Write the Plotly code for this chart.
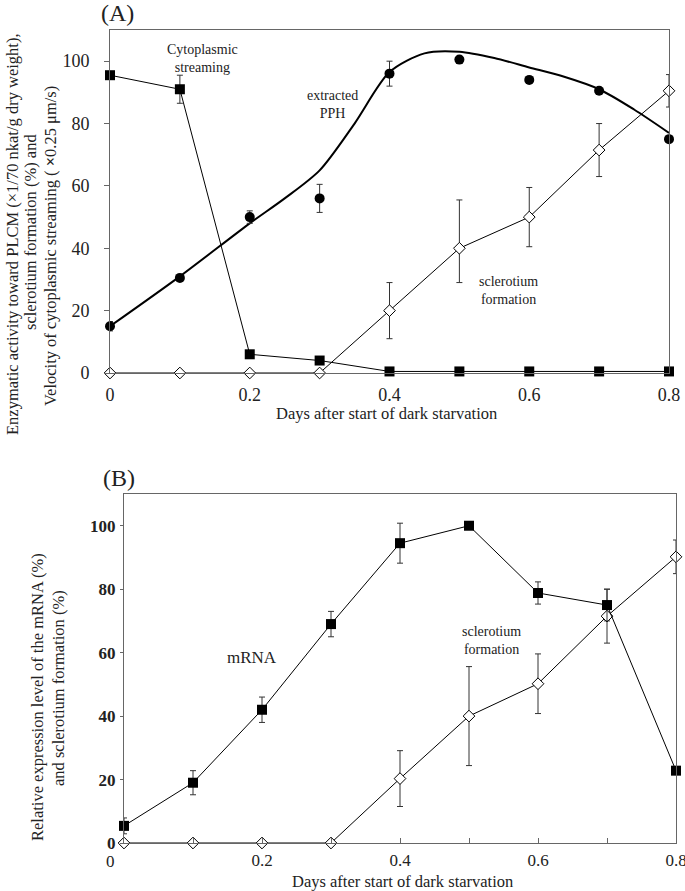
import plotly.graph_objects as go

W, H = 685, 891
FONT = "Liberation Serif"

# ---------------- Panel A data ----------------
days = [0, 0.1, 0.2, 0.3, 0.4, 0.5, 0.6, 0.7, 0.8]

a_stream = [95.5, 91, 6, 4, 0.5, 0.5, 0.5, 0.5, 0.5]
a_stream_err = [0, 4.5, 0, 0, 0, 0, 0, 0, 0]

a_pph = [15, 30.5, 50, 56, 96, 100.5, 94, 90.5, 75]
a_pph_err = [1.5, 0, 2, 4.5, 4, 0, 0, 0, 0]

a_pph_curve_x = [0, 0.1, 0.2, 0.25, 0.3, 0.35, 0.4, 0.45, 0.5, 0.55, 0.6, 0.65, 0.7, 0.75, 0.8]
a_pph_curve_y = [15, 31, 48, 56, 65, 80, 96.5, 102.5, 103, 101, 98, 95, 91, 84.5, 77]

a_scl = [0, 0, 0, 0, 20, 40, 50, 71.5, 90.5]
a_scl_err_plus = [0, 0, 0, 0, 9, 15.5, 9.5, 8.5, 5.2]
a_scl_err_minus = [0, 0, 0, 0, 9, 11, 9.5, 8.5, 5.2]

# ---------------- Panel B data ----------------
b_mrna = [5.4, 19, 42, 69, 94.5, 100, 78.8, 75, 22.8]
b_mrna_err = [2.5, 3.8, 4, 4, 6.3, 0, 3.5, 5, 0]

b_scl = [0, 0, 0, 0, 20.3, 40, 50.2, 71.5, 90.2]
b_scl_err = [0, 0, 0, 0, 8.8, 15.6, 9.4, 8.5, 5.3]

x_ticks = [0, 0.2, 0.4, 0.6, 0.8]
x_tick_text = ["0", "0.2", "0.4", "0.6", "0.8"]
y_ticks = [0, 20, 40, 60, 80, 100]

fig = go.Figure()

def px_x(p):
    return p / W

def px_y(p):
    return 1 - p / H

ERR = dict(type="data", color="#333", thickness=1, width=3)
SQ = dict(symbol="square", size=10, color="black", line=dict(width=0))
DIA = dict(symbol="diamond", size=9, color="white", line=dict(width=1, color="black"))

# ---- panel A traces ----
fig.add_trace(go.Scatter(x=a_pph_curve_x, y=a_pph_curve_y, mode="lines",
                         line=dict(color="black", width=2, shape="spline", smoothing=0.8),
                         xaxis="x", yaxis="y", cliponaxis=False, hoverinfo="skip"))
fig.add_trace(go.Scatter(x=days, y=a_scl, mode="lines+markers",
                         line=dict(color="black", width=1), marker=DIA,
                         error_y=dict(array=a_scl_err_plus, arrayminus=a_scl_err_minus, symmetric=False, **ERR),
                         xaxis="x", yaxis="y", cliponaxis=False))
fig.add_trace(go.Scatter(x=days, y=a_stream, mode="lines+markers",
                         line=dict(color="black", width=1), marker=SQ,
                         error_y=dict(array=a_stream_err, **ERR),
                         xaxis="x", yaxis="y", cliponaxis=False))
fig.add_trace(go.Scatter(x=days, y=a_pph, mode="markers",
                         marker=dict(symbol="circle", size=10, color="black"),
                         error_y=dict(array=a_pph_err, **ERR),
                         xaxis="x", yaxis="y", cliponaxis=False))

# ---- panel B traces ----
fig.add_trace(go.Scatter(x=days, y=b_scl, mode="lines+markers",
                         line=dict(color="black", width=1), marker=DIA,
                         error_y=dict(array=b_scl_err, **ERR),
                         xaxis="x2", yaxis="y2", cliponaxis=False))
fig.add_trace(go.Scatter(x=days, y=b_mrna, mode="lines+markers",
                         line=dict(color="black", width=1), marker=SQ,
                         error_y=dict(array=b_mrna_err, **ERR),
                         xaxis="x2", yaxis="y2", cliponaxis=False))

AX = dict(showgrid=False, zeroline=False, showline=True, linecolor="#666", linewidth=1,
          mirror=True, tickcolor="#666", automargin=False, ticklabeloverflow="allow",
          tickfont=dict(family=FONT, size=18, color="#222"))

fig.update_layout(
    width=W, height=H, autosize=False, showlegend=False,
    margin=dict(l=0, r=0, t=0, b=0, pad=0, autoexpand=False),
    paper_bgcolor="white", plot_bgcolor="white",
    font=dict(family=FONT, color="#222"),
    xaxis=dict(AX, domain=[px_x(110), px_x(669)], anchor="y", range=[0, 0.8],
               tickvals=x_ticks, ticktext=x_tick_text, ticks="", ticklabelstandoff=5),
    yaxis=dict(AX, domain=[px_y(373), px_y(30)], anchor="x", range=[0, 110],
               tickvals=y_ticks, ticks="outside", ticklen=5, ticklabelstandoff=11),
    xaxis2=dict(AX, domain=[px_x(124), px_x(676)], anchor="y2", range=[0, 0.8],
                tickvals=x_ticks[1:], ticktext=x_tick_text[1:], ticks="inside", ticklen=5,
                minor=dict(dtick=0.1, ticks="inside", ticklen=5, tickcolor="#666"),
                ticklabelstandoff=2, tickfont=dict(family=FONT, size=17, color="#222")),
    yaxis2=dict(AX, domain=[px_y(843), px_y(494)], anchor="x2", range=[0, 110],
                tickvals=y_ticks, ticks="outside", ticklen=3, ticklabelstandoff=1,
                tickfont=dict(family=FONT, size=17, color="#222", weight="bold")),
)

def ann(text, x, y, size, xref="paper", yref="paper", angle=0):
    fig.add_annotation(text=text, x=x, y=y, xref=xref, yref=yref, showarrow=False,
                       xanchor="center", yanchor="middle", textangle=angle,
                       font=dict(family=FONT, size=size, color="#222"))

# titles
ann("(A)", px_x(117), px_y(13), 24)
ann("(B)", px_x(119), px_y(478), 24)
# x-axis titles
ann("Days after start of dark starvation", px_x(387), px_y(413), 16.5)
ann("Days after start of dark starvation", px_x(402), px_y(881), 16.5)
# panel B x "0" label (offset left of the axis in the original)
ann("0", px_x(110), px_y(861), 17)
# y-axis titles panel A
ann("Enzymatic activity toward PLCM (\u00d71/70 nkat/g dry weight),", px_x(12), px_y(234), 16.5, angle=-90)
ann("sclerotium formation (%) and", px_x(31), px_y(232), 16.5, angle=-90)
ann("Velocity of cytoplasmic streaming ( <b>\u00d7</b>0.25 \u03bcm/s)", px_x(50), px_y(246), 16.5, angle=-90)
# y-axis titles panel B
ann("Relative expression level of the mRNA (%)", px_x(37), px_y(697), 16.5, angle=-90)
ann("and sclerotium formation (%)", px_x(58), px_y(688), 16.5, angle=-90)
# in-plot labels
ann("Cytoplasmic<br>streaming", 0.132, 101, 14, "x", "y")
ann("extracted<br>PPH", 0.318, 86, 14, "x", "y")
ann("sclerotium<br>formation", 0.571, 26.5, 14, "x", "y")
ann("mRNA", 0.186, 58.5, 17, "x2", "y2")
ann("sclerotium<br>formation", 0.532, 63.8, 14, "x2", "y2")

fig.write_html("out.html", config={"displayModeBar": False},
               post_script="document.body.style.margin='0';document.body.style.overflow='hidden';")
